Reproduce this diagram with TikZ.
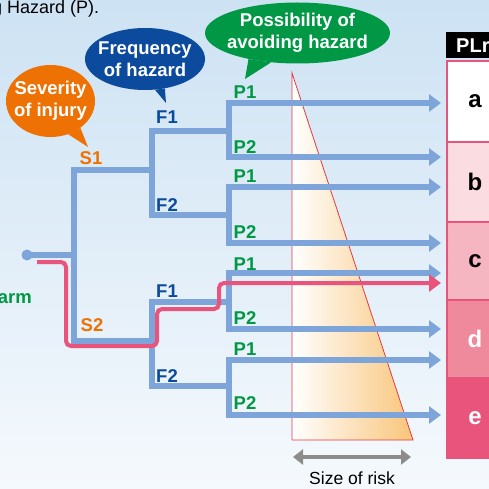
\documentclass[tikz,border=0pt]{standalone}
\usepackage{fontspec}
\setmainfont{Liberation Sans}
\usepackage{tikz}
\usetikzlibrary{shapes.geometric,arrows.meta,positioning}
\definecolor{skytop}{HTML}{CDE2F3}
\definecolor{skybottom}{HTML}{F5F9FD}
\definecolor{treeblue}{HTML}{7DA5DA}
\definecolor{routered}{HTML}{E9547C}
\definecolor{sevorange}{HTML}{EE7203}
\definecolor{freqblue}{HTML}{0B4A9C}
\definecolor{avoidgreen}{HTML}{009844}
\definecolor{riskorange}{HTML}{F9C57A}
\definecolor{riskline}{HTML}{E8383D}
\definecolor{riskgray}{HTML}{8C8C8C}
\definecolor{plrb}{HTML}{FADCE1}
\definecolor{plrc}{HTML}{F5B5C1}
\definecolor{plrd}{HTML}{EF8A9D}
\definecolor{plre}{HTML}{E9547C}

\begin{document}
\begin{tikzpicture}[x=1pt, y=-1pt, line join=miter,
    tree/.style={draw=treeblue, line width=5.5pt, line cap=rect},
    leaf/.style={draw=treeblue, line width=5.5pt, -{Triangle[length=12pt,width=17pt]}},
    route/.style={draw=routered, line width=4pt, rounded corners=5pt, -{Triangle[length=12pt,width=17pt]}},
    lbl/.style={font=\fontsize{18.5}{21}\selectfont\bfseries, inner sep=0pt},
    bubble/.style={ellipse, inner sep=0pt},
    bubbletext/.style={font=\fontsize{18.5}{22}\selectfont\bfseries, text=white, align=center, inner sep=0pt},
    cell/.style={draw=routered, line width=2pt, anchor=north west, minimum width=56pt, font=\fontsize{24}{24}\selectfont\bfseries}]
   \useasboundingbox (0,0) rectangle (489,489);
   \fill[top color=skytop, bottom color=skybottom] (0,0) rectangle (489,489);

   \node[anchor=west, inner sep=0pt, font=\fontsize{18}{21}\selectfont] (intro) at (-8,9) {g Hazard (P).};
   \node[anchor=east, lbl, text=avoidgreen] (harm) at (32,299) {arm};

   % size of risk
   \shadedraw[draw=riskline, line width=0.8pt, left color=white, middle color=riskorange!80, right color=riskorange] (292,73) -- (292,440) -- (413,440) -- cycle;
   \coordinate (rl) at (293,457);
   \coordinate (rr) at (411,457);
   \draw[draw=riskgray, line width=4.5pt, {Triangle[length=10pt,width=15pt]}-{Triangle[length=10pt,width=15pt]}] (rl) -- (rr);
   \node[inner sep=0pt, font=\fontsize{17.5}{20}\selectfont] (risk) at (352,478) {Size of risk};

   % PLr column
   \node[fill=black, text=white, anchor=north west, minimum height=26pt, inner xsep=10pt, text width=36pt, align=left, font=\fontsize{20}{22}\selectfont\bfseries] (plr) at (446,32) {PLr};
   \node[cell, fill=white, minimum height=81pt] (a) at (446,60) {a};
   \node[cell, fill=plrb, minimum height=80pt] (b) at (446,141) {b};
   \node[cell, fill=plrc, minimum height=78pt] (c) at (446,221) {c};
   \node[cell, fill=plrd, minimum height=78pt, text=white] (d) at (446,299) {d};
   \node[cell, fill=plre, minimum height=80pt, text=white] (e) at (446,377) {e};

   % tree
   \coordinate (start) at (27,255);
   \coordinate (jS) at (74,255);
   \coordinate (fA) at (152,170);
   \coordinate (fB) at (152,341);
   \coordinate (pA) at (229,131);
   \coordinate (pB) at (229,215);
   \coordinate (pC) at (229,302);
   \coordinate (pD) at (229,386);
   \coordinate (t1) at (441,103);
   \coordinate (t2) at (441,157);
   \coordinate (t3) at (441,187);
   \coordinate (t4) at (441,243);
   \coordinate (t5) at (441,273);
   \coordinate (t6) at (441,329);
   \coordinate (t7) at (441,360);
   \coordinate (t8) at (441,415);
   \coordinate (tc) at (441,283);
   \coordinate (rstart) at (37,262);

   \fill[treeblue] (start) circle [radius=5.5pt];
   \draw[tree, line cap=butt] (start) -- (jS);
   \draw[tree] (fA) -| (jS |- fB) -- (fB);
   \draw[tree] (pA) -| (fA |- pB) -- (pB);
   \draw[tree] (pC) -| (fB |- pD) -- (pD);
   \draw[tree] (pA |- t1) -- (pA |- t2);
   \draw[tree] (pB |- t3) -- (pB |- t4);
   \draw[tree] (pC |- t5) -- (pC |- t6);
   \draw[tree] (pD |- t7) -- (pD |- t8);
   \foreach \t/\p in {t1/pA, t2/pA, t3/pB, t4/pB, t5/pC, t6/pC, t7/pD, t8/pD}
     \draw[leaf] (\p |- \t) -- (\t);

   \draw[route] (rstart) -| (66,346) -| (157,309) -| (219,283) -- (tc);

   \begin{scope}[every node/.style={lbl}]
    \node[text=sevorange] (lS1) at (91,158) {S1};
    \node[text=sevorange] (lS2) at (92,325) {S2};
    \node[text=freqblue] (lF1a) at (167,117) {F1};
    \node[text=freqblue] (lF2a) at (167,205) {F2};
    \node[text=freqblue] (lF1b) at (167,291) {F1};
    \node[text=freqblue] (lF2b) at (167,376) {F2};
    \node[text=avoidgreen] (lP1a) at (245,92) {P1};
    \node[text=avoidgreen] (lP2a) at (245,147) {P2};
    \node[text=avoidgreen] (lP1b) at (245,176) {P1};
    \node[text=avoidgreen] (lP2b) at (245,232) {P2};
    \node[text=avoidgreen] (lP1c) at (245,264) {P1};
    \node[text=avoidgreen] (lP2c) at (245,318) {P2};
    \node[text=avoidgreen] (lP1d) at (245,349) {P1};
    \node[text=avoidgreen] (lP2d) at (245,403) {P2};
   \end{scope}

   % speech bubbles
   \node[bubble, fill=sevorange, minimum width=89pt, minimum height=72pt] (sev) at (50.5,101) {};
   \coordinate (sevtip) at (88,147);
   \fill[sevorange] (sev.-62) -- (sevtip) -- (sev.-42) -- cycle;
   \node[bubbletext] (sevtext) at (sev) {Severity\\of injury};

   \node[bubble, fill=freqblue, minimum width=120pt, minimum height=62pt] (freq) at (145,59) {};
   \coordinate (freqtip) at (166,103);
   \fill[freqblue] (freq.-72) -- (freqtip) -- (freq.-56) -- cycle;
   \node[bubbletext] (freqtext) at (freq) {Frequency\\of hazard};

   \node[bubble, fill=avoidgreen, minimum width=185pt, minimum height=61pt] (avoid) at (297.5,33) {};
   \coordinate (avoidtip) at (245,79);
   \fill[avoidgreen] (avoid.-152) -- (avoidtip) -- (avoid.-132) -- cycle;
   \node[bubbletext] (avoidtext) at (avoid) {Possibility of\\avoiding hazard};
\end{tikzpicture}
\end{document}
